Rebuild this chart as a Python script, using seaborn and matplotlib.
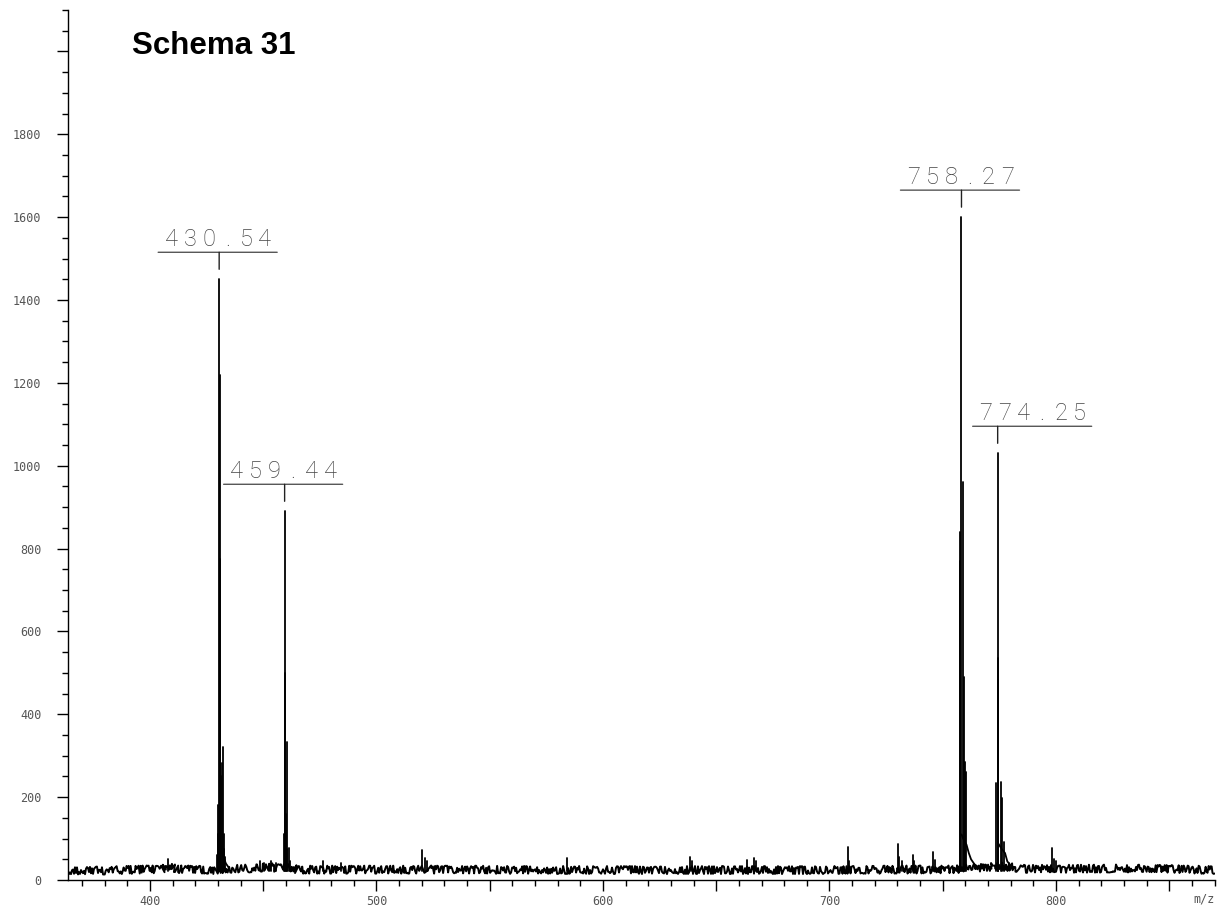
import matplotlib
matplotlib.use("Agg")
import matplotlib.pyplot as plt
from matplotlib.ticker import MultipleLocator, FuncFormatter
from matplotlib.transforms import offset_copy
import pandas as pd
import seaborn as sns

# ---- spectrum data -------------------------------------------------------
# labelled peaks (m/z, intensity)
label_mz = [430.54, 459.44, 758.27, 774.25]
label_int = [1450, 890, 1600, 1030]
label_text = ["430.54", "459.44", "758.27", "774.25"]
label_shift = [0, 0, 0, 36]          # horizontal label offset, pixels

# remaining centroid sticks (isotope partners, fragments, small signals)
stick_mz = [407.8, 429.6, 429.85, 430.2, 430.7, 430.85, 431.1, 431.35, 431.7,
            432.3, 432.5, 432.8, 433.2, 448.5, 450.5, 453.6, 455.5,
            459.1, 459.6, 460.1, 460.4, 460.7, 461.2, 461.6, 476.5, 484.5,
            520.3, 521.6, 522.4, 583.9, 638.5, 639.5, 663.5, 666.6, 667.5,
            708.2, 708.7, 730.1, 730.6, 732.0, 736.8, 737.5, 745.8, 746.5,
            757.7, 757.8, 759.0, 759.2, 760.0, 760.4,
            773.7, 774.35, 774.45, 775.7, 776.3, 777.2,
            798.3, 799.0, 800.0]
stick_int = [50, 60, 110, 180, 1220, 420, 775, 250, 283,
             320, 110, 75, 55, 45, 42, 45, 40,
             110, 500, 160, 333, 75, 77, 45, 45, 42,
             72, 52, 45, 53, 55, 45, 48, 52, 45,
             80, 45, 87, 55, 45, 60, 45, 67, 48,
             770, 840, 960, 490, 285, 261,
             234, 536, 483, 237, 198, 92,
             77, 50, 45]

# noise floor
base_mz = [363.8, 380, 395, 405, 408, 412, 428, 435, 447, 452,
           457, 462, 465, 520, 522, 525, 600, 700, 756, 766, 770, 773,
           782, 785, 800, 840, 870.2]
base_int = [22, 23, 25, 26, 32, 26, 24, 27, 28, 32,
            28, 30, 25, 25, 30, 25, 24, 24, 26, 30, 30, 34,
            30, 27, 27, 28, 24]

# decaying tails after the main clusters
tail_mz = [430.6, 431.5, 432.5, 433.5, 435.0,
           758.3, 759.0, 760.5, 761.5, 762.5, 764.0, 766.0,
           774.3, 776.0, 777.5, 778.5, 780.0, 782.0]
tail_int = [90, 70, 55, 40, 28,
            110, 100, 85, 65, 50, 38, 30,
            90, 75, 65, 45, 35, 29]
tail_group = [0] * 5 + [1] * 7 + [2] * 6

STICK_BASE = 22

# ---- figure --------------------------------------------------------------
sns.set_style("ticks")
plt.rcParams["font.family"] = ["DejaVu Sans"]

fig = plt.figure(figsize=(12.28, 9.08), dpi=100)
ax = fig.add_axes([68 / 1228, 28 / 908, 1147 / 1228, 870 / 908])

base_df = pd.DataFrame({"mz": base_mz, "intensity": base_int})
sns.lineplot(data=base_df, x="mz", y="intensity", ax=ax, color="black",
             lw=1.4, estimator=None)
ax.lines[-1].set_sketch_params(scale=4, length=0.35, randomness=20)

tail_df = pd.DataFrame({"mz": tail_mz, "intensity": tail_int, "grp": tail_group})
sns.lineplot(data=tail_df, x="mz", y="intensity", units="grp", estimator=None,
             sort=False, ax=ax, color="black", lw=1.3)

all_mz = label_mz + stick_mz
all_int = label_int + stick_int
rows = []
for i, (m, h) in enumerate(zip(all_mz, all_int)):
    rows.append({"peak": i, "mz": m, "intensity": STICK_BASE})
    rows.append({"peak": i, "mz": m, "intensity": h})
stick_df = pd.DataFrame(rows)
sns.lineplot(data=stick_df, x="mz", y="intensity", units="peak",
             estimator=None, sort=False, ax=ax, color="black", lw=1.3)

# ---- peak labels ---------------------------------------------------------
label_color = "#444444"
for m, h, txt, sh in zip(label_mz, label_int, label_text, label_shift):
    # underline
    ax.annotate("", xy=(m, h), xycoords=offset_copy(ax.transData, fig=fig, x=sh - 61, y=27, units="dots"),
                xytext=(m, h), textcoords=offset_copy(ax.transData, fig=fig, x=sh + 58, y=27, units="dots"),
                arrowprops=dict(arrowstyle="-", color="#555555", lw=1.0, shrinkA=0, shrinkB=0))
    # leader
    ax.annotate("", xy=(m, h), xycoords=offset_copy(ax.transData, fig=fig, x=0, y=27, units="dots"),
                xytext=(m, h), textcoords=offset_copy(ax.transData, fig=fig, x=0, y=10, units="dots"),
                arrowprops=dict(arrowstyle="-", color="#222222", lw=1.0, shrinkA=0, shrinkB=0))
    # evenly spaced characters
    n = len(txt)
    for k, ch in enumerate(txt):
        ax.annotate(ch, xy=(m, h), xytext=(sh - 1 + (k - (n - 1) / 2) * 18.7, 33),
                    textcoords="offset pixels", ha="center", va="baseline",
                    fontsize=17, family="Roboto", fontweight="light",
                    color=label_color)

# ---- axes ----------------------------------------------------------------
ax.set_xlim(363.8, 870.2)
ax.set_ylim(0, 2100)
ax.xaxis.set_major_locator(MultipleLocator(50))
ax.xaxis.set_minor_locator(MultipleLocator(10))
ax.yaxis.set_major_locator(MultipleLocator(200))
ax.yaxis.set_minor_locator(MultipleLocator(50))
ax.xaxis.set_major_formatter(FuncFormatter(lambda v, p: f"{v:.0f}" if round(v) % 100 == 0 else ""))
ax.yaxis.set_major_formatter(FuncFormatter(lambda v, p: "" if v >= 2000 else f"{v:.0f}"))

ax.tick_params(axis="both", which="both", bottom=True, left=True,
               top=False, right=False, direction="out", color="black", width=1)
ax.tick_params(axis="both", which="major", length=8, labelcolor="#555555")
ax.tick_params(axis="both", which="minor", length=4.5)
ax.tick_params(axis="x", which="major", pad=3)
ax.tick_params(axis="y", which="major", pad=11)
for lab in ax.get_xticklabels() + ax.get_yticklabels():
    lab.set_family("DejaVu Sans Mono")
    lab.set_fontsize(8.5)

for s in ["top", "right"]:
    ax.spines[s].set_visible(False)
for s in ["left", "bottom"]:
    ax.spines[s].set_color("black")
    ax.spines[s].set_linewidth(1.0)

ax.set_xlabel("")
ax.set_ylabel("")
ax.annotate("m/z", xy=(1, 0), xycoords="axes fraction", xytext=(0, -13),
            textcoords="offset pixels", ha="right", va="top",
            family="DejaVu Sans Mono", fontsize=8.5, color="#555555")

fig.text(132 / 1228, 1 - 54 / 908, "Schema 31", ha="left", va="baseline",
         family="Liberation Sans", fontweight="bold", fontsize=22.5,
         color="black")

fig.savefig("out.png", dpi=100)
